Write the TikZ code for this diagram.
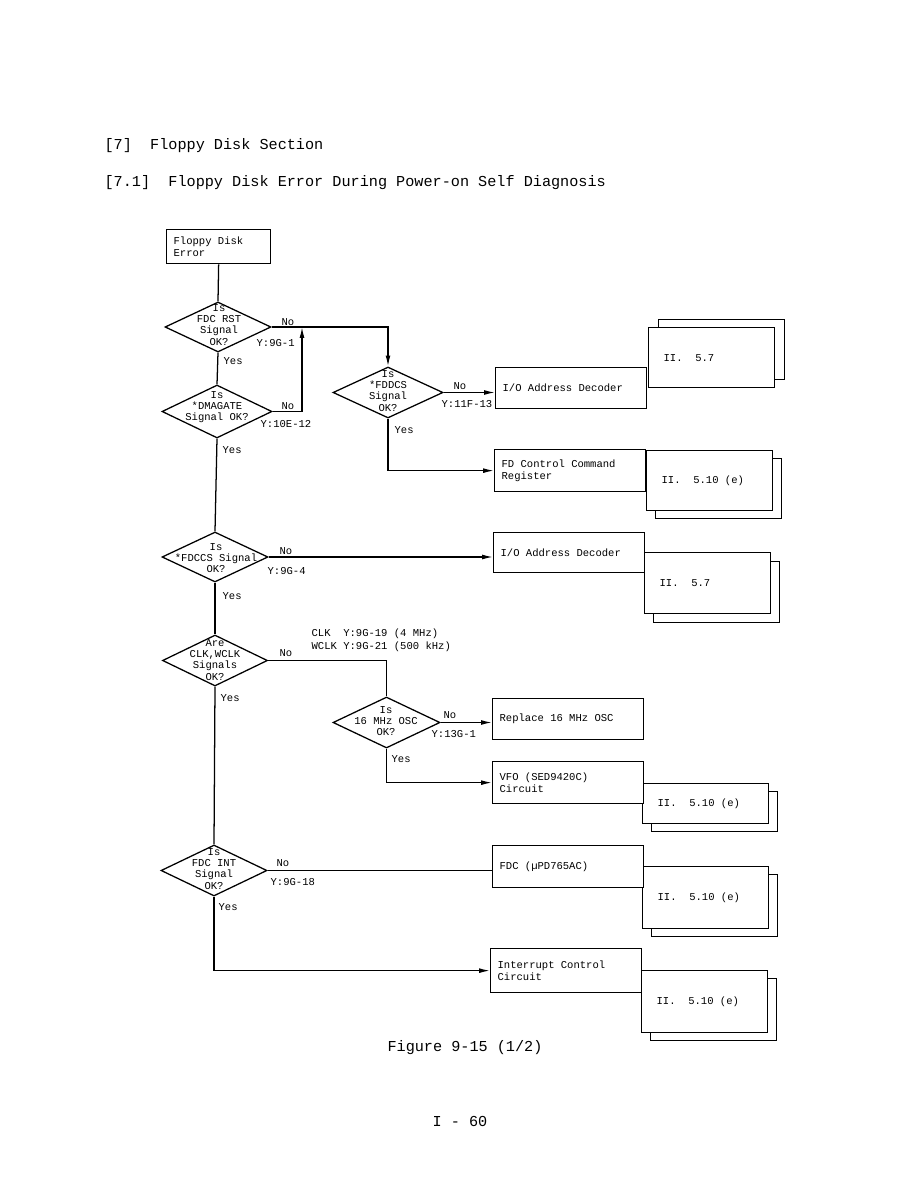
\documentclass[tikz,border=0pt]{standalone}
\usepackage{fontspec}
\setmainfont{Liberation Mono}
\usetikzlibrary{shapes.geometric,arrows.meta}
\tikzset{
  dec/.style={draw, diamond, inner sep=0pt},
  qtext/.style={align=center, inner sep=0pt, font=\fontsize{7.5}{7.9}\selectfont},
  lbl/.style={anchor=west, inner sep=0pt, font=\fontsize{7.5}{8}\selectfont},
  box/.style={draw, fill=white, anchor=north west, align=left, inner xsep=.175cm, inner ysep=0pt,
    text width=3.425cm, font=\fontsize{7.5}{9}\selectfont,
    execute at begin node={\spaceskip=0pt\xspaceskip=0pt}},
  refbox/.style={draw, fill=white, anchor=north west, align=left, inner xsep=.375cm, inner ysep=0pt,
    text width=2.4cm, font=\fontsize{7.5}{9}\selectfont,
    execute at begin node={\spaceskip=0pt\xspaceskip=0pt}},
  arr/.style={-{Latex[length=2.7mm,width=1.2mm]}},
  head/.style={anchor=west, inner sep=0pt, font=\fontsize{10.8}{12}\selectfont},
}
\begin{document}
\begin{tikzpicture}[x=0.025cm, y=-0.025cm, line width=.9pt]
  \useasboundingbox (0,0) rectangle (919,1188);

  \node[head] (sec) at (104,146) {[7]\ \ Floppy Disk Section};
  \node[head] (sub) at (104,183) {[7.1]\ \ Floppy Disk Error During Power-on Self Diagnosis};

  % start box
  \node[box, text width=2.25cm, minimum height=.85cm] (err) at (166,229) {Floppy Disk\\Error};

  % decisions
  \node[dec, minimum width=2.65cm, minimum height=1.25cm] (d1) at (218,327) {};
  \node[dec, minimum width=2.75cm, minimum height=1.325cm] (d2) at (217,411.5) {};
  \node[dec, minimum width=2.75cm, minimum height=1.275cm] (d3) at (388,392.5) {};
  \node[dec, minimum width=2.65cm, minimum height=1.25cm] (d4) at (215,557) {};
  \node[dec, minimum width=2.625cm, minimum height=1.275cm] (d5) at (215,660.5) {};
  \node[dec, minimum width=2.675cm, minimum height=1.275cm] (d6) at (386.5,722.5) {};
  \node[dec, minimum width=2.65cm, minimum height=1.275cm] (d7) at (214,870.5) {};

  \node[qtext] (d1t) at (219,325) {Is\\FDC RST\\Signal\\OK?};
  \node[qtext] (d2t) at (217,407) {Is\\*DMAGATE\\Signal OK?};
  \node[qtext] (d3t) at (388,391) {Is\\*FDDCS\\Signal\\OK?};
  \node[qtext] (d4t) at (216,558) {Is\\*FDCCS Signal\\OK?};
  \node[qtext] (d5t) at (215,660) {Are\\CLK,WCLK\\Signals\\OK?};
  \node[qtext] (d6t) at (386,721) {Is\\16 MHz OSC\\OK?};
  \node[qtext] (d7t) at (214,869) {Is\\FDC INT\\Signal\\OK?};

  % reference boxes (back sheet first)
  \node[refbox, minimum height=1.5cm] (r1b) at (658,319) {};
  \node[refbox, minimum height=1.5cm] (r1) at (648,327) {II.\ \ 5.7};
  \node[refbox, minimum height=1.5cm] (r2b) at (655,458) {};
  \node[refbox, minimum height=1.5cm] (r2) at (646,450) {II.\ \ 5.10 (e)};
  \node[refbox, minimum height=1.525cm] (r3b) at (653,561) {};
  \node[refbox, minimum height=1.525cm] (r3) at (644,552) {II.\ \ 5.7};
  \node[refbox, minimum height=1cm] (r4b) at (651,791) {};
  \node[refbox, minimum height=1cm] (r4) at (642,783) {II.\ \ 5.10 (e)};
  \node[refbox, minimum height=1.55cm] (r5b) at (651,874) {};
  \node[refbox, minimum height=1.55cm] (r5) at (642,866) {II.\ \ 5.10 (e)};
  \node[refbox, minimum height=1.55cm] (r6b) at (650,978) {};
  \node[refbox, minimum height=1.55cm] (r6) at (641,970) {II.\ \ 5.10 (e)};

  % action boxes
  \node[box, minimum height=1.025cm] (io1) at (495,367) {I/O Address Decoder};
  \node[box, minimum height=1.05cm] (fdcr) at (494,449) {FD Control Command\\Register};
  \node[box, minimum height=1cm] (io2) at (493,532) {I/O Address Decoder};
  \node[box, minimum height=1.025cm] (osc) at (492,698) {Replace 16 MHz OSC};
  \node[box, minimum height=1.05cm] (vfo) at (492,761) {VFO (SED9420C)\\Circuit};
  \node[box, minimum height=1.05cm] (fdc) at (492,845) {FDC (µPD765AC)};
  \node[box, minimum height=1.1cm] (intr) at (490,948) {Interrupt Control\\Circuit};

  % branch labels
  \node[lbl] (n1) at (281,322) {No};
  \node[lbl] (y1) at (256,343) {Y:9G-1};
  \node[lbl] (s1) at (223,361) {Yes};
  \node[lbl] (n2) at (281,406) {No};
  \node[lbl] (y2) at (260,424) {Y:10E-12};
  \node[lbl] (s2) at (222,450) {Yes};
  \node[lbl] (n3) at (453,386) {No};
  \node[lbl] (y3) at (441,404) {Y:11F-13};
  \node[lbl] (s3) at (394,430) {Yes};
  \node[lbl] (n4) at (279,551) {No};
  \node[lbl] (y4) at (267,571) {Y:9G-4};
  \node[lbl] (s4) at (222,596) {Yes};
  \node[lbl] (n5) at (279,653) {No};
  \node[lbl] (clk) at (311,634) {CLK\ \ Y:9G-19 (4 MHz)};
  \node[lbl] (wclk) at (311,647) {WCLK Y:9G-21 (500 kHz)};
  \node[lbl] (s5) at (220,698) {Yes};
  \node[lbl] (n6) at (443,715) {No};
  \node[lbl] (y6) at (431,734) {Y:13G-1};
  \node[lbl] (s6) at (391,759) {Yes};
  \node[lbl] (n7) at (276,863) {No};
  \node[lbl] (y7) at (270,882) {Y:9G-18};
  \node[lbl] (s7) at (218,907) {Yes};

  % connectors
  \coordinate (j1) at (302,327);
  \draw (err.south) -- (d1.north);
  \draw (d1.south) -- (d2.north);
  \draw[arr] (d1.east) -| (d3.north);
  \draw[arr] (d2.east) -| (j1);
  \draw[arr] (d3.east) -- (d3.east -| io1.west);
  \draw[arr] (d3.south) |- (fdcr.west);
  \draw (d2.south) -- (d4.north);
  \draw[arr] (d4.east) -- (d4.east -| io2.west);
  \draw (d4.south) -- (d5.north);
  \draw (d5.east) -| (d6.north);
  \draw[arr] (d6.east) -- (d6.east -| osc.west);
  \draw[arr] (d6.south) |- (vfo.west);
  \draw (d5.south) -- (d7.north);
  \draw (d7.east) -- (d7.east -| fdc.west);
  \draw[arr] (d7.south) |- (intr.west);

  \node[font=\fontsize{10.8}{12}\selectfont] (cap) at (465,1048) {Figure 9-15 (1/2)};
  \node[font=\fontsize{10.8}{12}\selectfont] (page) at (460,1121) {I - 60};
\end{tikzpicture}
\end{document}
